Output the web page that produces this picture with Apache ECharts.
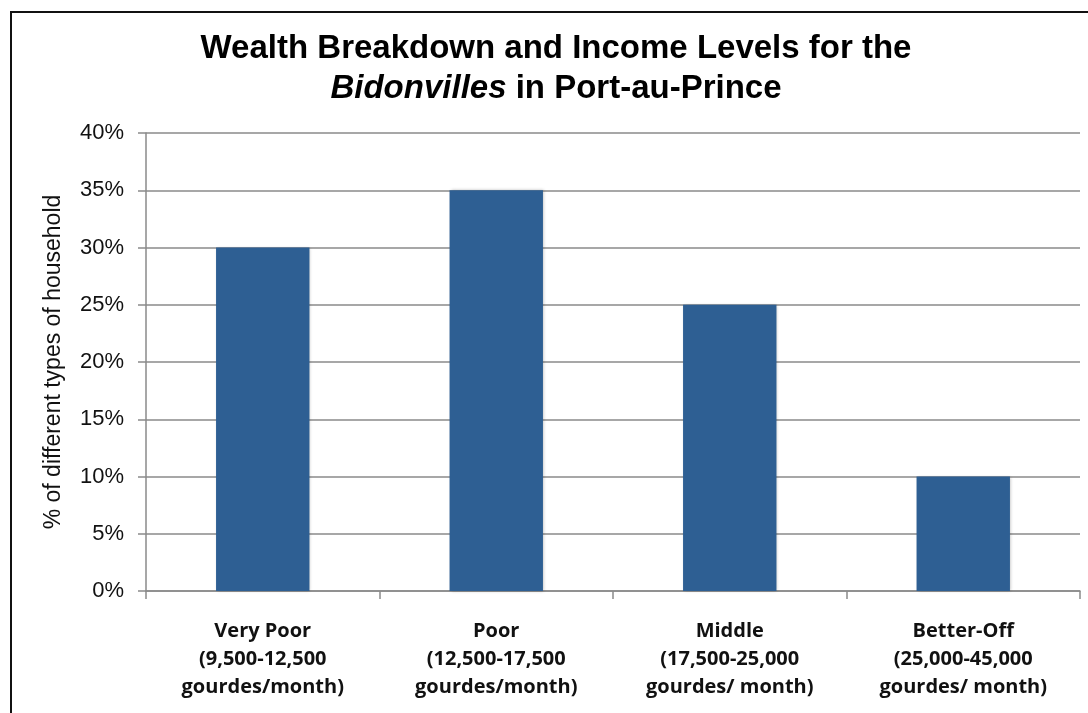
<!DOCTYPE html>
<html>
<head>
<meta charset="utf-8">
<style>
  html, body { margin: 0; padding: 0; background: #ffffff; }
  #chart { width: 1088px; height: 713px; }
</style>
<script src="https://cdn.jsdelivr.net/npm/echarts@6/dist/echarts.min.js"></script>
</head>
<body>
<div id="chart"></div>
<script>
// Household wealth groups and their share of households
const categories = [
  'Very Poor\n(9,500-12,500\ngourdes/month)',
  'Poor\n(12,500-17,500\ngourdes/month)',
  'Middle\n(17,500-25,000\ngourdes/ month)',
  'Better-Off\n(25,000-45,000\ngourdes/ month)'
];
const shares = [30, 35, 25, 10];
const yTicks = [0, 5, 10, 15, 20, 25, 30, 35, 40];

const chart = echarts.init(document.getElementById('chart'));
const axisGrey = '#8a8a8a';

chart.setOption({
  backgroundColor: '#ffffff',
  animation: false,
  title: {
    left: 556,
    textAlign: 'center',
    top: 29,
    padding: 0,
    text: '{b|Wealth Breakdown and Income Levels for the}\n{i|Bidonvilles}{b| in Port-au-Prince}',
    textStyle: {
      rich: {
        b: { fontFamily: 'Liberation Sans', fontWeight: 'bold', fontSize: 33, color: '#000', lineHeight: 40 },
        i: { fontFamily: 'Liberation Sans', fontWeight: 'bold', fontStyle: 'italic', fontSize: 33, color: '#000', lineHeight: 40 }
      }
    }
  },
  graphic: [{
    type: 'rect',
    shape: { x: 11, y: 12, width: 1200, height: 800 },
    style: { fill: 'none', stroke: '#111', lineWidth: 2 },
    silent: true
  }],
  grid: { left: 146, right: 8, top: 133, bottom: 122, containLabel: false },
  xAxis: {
    type: 'category',
    data: categories,
    axisLine: { lineStyle: { color: axisGrey, width: 1.5 } },
    axisTick: { show: true, length: 8, alignWithLabel: false, lineStyle: { color: axisGrey, width: 1.5 } },
    axisLabel: {
      interval: 0,
      margin: 26,
      color: '#111',
      fontFamily: 'Open Sans',
      fontWeight: 'bold',
      fontSize: 20,
      lineHeight: 28,
      align: 'center'
    }
  },
  yAxis: {
    type: 'value',
    min: yTicks[0],
    max: yTicks[yTicks.length - 1],
    interval: 5,
    name: '% of different types of household',
    nameLocation: 'middle',
    nameGap: 81,
    nameTextStyle: { fontFamily: 'Liberation Sans', fontSize: 23, color: '#111' },
    axisLine: { show: true, lineStyle: { color: axisGrey, width: 1.5 } },
    axisTick: { show: true, length: 8, lineStyle: { color: axisGrey, width: 1.5 } },
    splitLine: { show: true, lineStyle: { color: axisGrey, width: 1.5 } },
    axisLabel: {
      margin: 22,
      color: '#111',
      fontFamily: 'Liberation Sans',
      fontSize: 22,
      formatter: v => v + '%'
    }
  },
  series: [{
    type: 'bar',
    data: shares,
    barWidth: '40%',
    itemStyle: {
      color: '#2e5f93',
      shadowColor: 'rgba(0,0,0,0.25)',
      shadowBlur: 3,
      shadowOffsetX: 1,
      shadowOffsetY: 0
    }
  }]
});
</script>
</body>
</html>
